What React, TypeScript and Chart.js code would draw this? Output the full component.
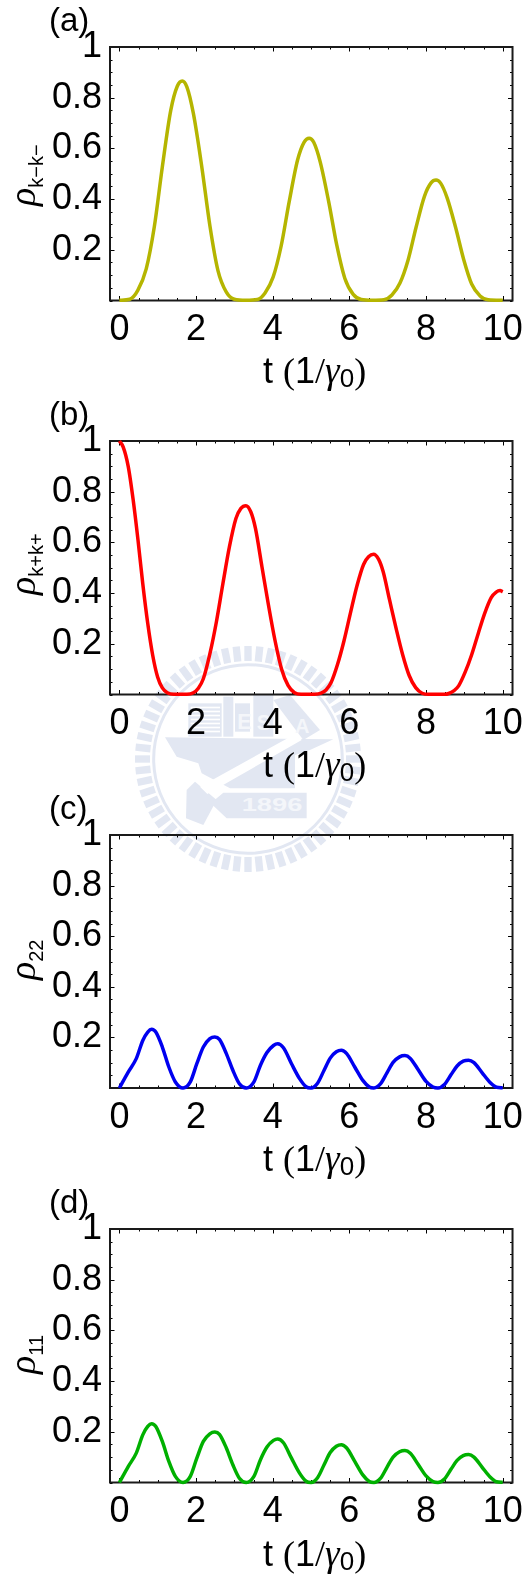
import React, { useEffect, useRef } from "react";
import { Chart, registerables } from "chart.js";

Chart.register(...registerables);

const xTickLabels = [0, 2, 4, 6, 8, 10];
const yTickLabels = [0.2, 0.4, 0.6, 0.8, 1];

const tA = [0, 0.27, 0.48, 0.7, 0.91, 1.12, 1.34, 1.51, 1.64, 1.76, 1.93, 2.15, 2.36, 2.57, 2.79, 3.0, 3.3, 3.6, 3.8, 4.01, 4.22, 4.43, 4.65, 4.82, 4.95, 5.07, 5.24, 5.46, 5.67, 5.88, 6.1, 6.31, 6.6, 6.9, 7.11, 7.32, 7.53, 7.74, 7.96, 8.13, 8.26, 8.38, 8.55, 8.77, 8.98, 9.19, 9.41, 9.62, 10];
const rhoKminus = [0.001, 0.005, 0.04, 0.125, 0.29, 0.527, 0.75, 0.845, 0.866, 0.843, 0.738, 0.527, 0.296, 0.119, 0.033, 0.005, 0.001, 0.004, 0.03, 0.092, 0.215, 0.39, 0.555, 0.625, 0.64, 0.624, 0.546, 0.39, 0.219, 0.088, 0.024, 0.004, 0.001, 0.003, 0.022, 0.069, 0.159, 0.289, 0.412, 0.464, 0.475, 0.463, 0.405, 0.289, 0.163, 0.065, 0.018, 0.003, 0.001];

const tB = [0, 0.1, 0.23, 0.36, 0.485, 0.61, 0.74, 0.87, 0.997, 1.12, 1.25, 1.42, 1.76, 1.93, 2.06, 2.19, 2.36, 2.53, 2.7, 2.87, 3.04, 3.17, 3.3, 3.43, 3.55, 3.72, 3.89, 4.06, 4.23, 4.4, 4.57, 4.74, 5.1, 5.26, 5.39, 5.52, 5.69, 5.86, 6.03, 6.2, 6.37, 6.5, 6.63, 6.76, 6.88, 7.05, 7.22, 7.39, 7.56, 7.73, 7.9, 8.07, 8.5, 8.59, 8.72, 8.85, 9.02, 9.19, 9.36, 9.53, 9.7, 9.83, 9.93, 10];
const rhoKplus = [1, 0.976, 0.9, 0.767, 0.61, 0.437, 0.28, 0.154, 0.069, 0.026, 0.007, 0.001, 0.001, 0.007, 0.025, 0.062, 0.16, 0.286, 0.437, 0.582, 0.694, 0.734, 0.745, 0.72, 0.655, 0.503, 0.352, 0.213, 0.101, 0.036, 0.007, 0.001, 0.001, 0.005, 0.018, 0.046, 0.118, 0.212, 0.323, 0.43, 0.513, 0.543, 0.553, 0.534, 0.485, 0.372, 0.26, 0.157, 0.075, 0.027, 0.005, 0.001, 0.001, 0.004, 0.014, 0.034, 0.088, 0.157, 0.24, 0.32, 0.382, 0.404, 0.41, 0.405];

const tC = [0, 0.23, 0.44, 0.61, 0.74, 0.84, 0.95, 1.12, 1.29, 1.46, 1.66, 1.85, 2.02, 2.19, 2.36, 2.49, 2.61, 2.79, 2.96, 3.13, 3.31, 3.51, 3.68, 3.85, 4.02, 4.13, 4.28, 4.49, 4.7, 4.87, 5.0, 5.17, 5.34, 5.5, 5.66, 5.79, 5.93, 6.14, 6.35, 6.52, 6.64, 6.81, 6.98, 7.14, 7.31, 7.45, 7.59, 7.8, 8.0, 8.18, 8.31, 8.48, 8.65, 8.81, 8.97, 9.11, 9.25, 9.46, 9.67, 9.84, 10];
const rho22 = [0, 0.063, 0.116, 0.188, 0.221, 0.232, 0.221, 0.162, 0.083, 0.024, 0, 0.024, 0.096, 0.162, 0.195, 0.202, 0.192, 0.136, 0.07, 0.017, 0, 0.024, 0.09, 0.14, 0.168, 0.175, 0.159, 0.096, 0.037, 0.005, 0, 0.019, 0.07, 0.118, 0.143, 0.149, 0.136, 0.083, 0.03, 0.004, 0, 0.016, 0.06, 0.101, 0.123, 0.128, 0.117, 0.071, 0.026, 0.004, 0, 0.014, 0.052, 0.087, 0.106, 0.11, 0.1, 0.061, 0.022, 0.003, 0.001];
const rho11 = [0, 0.063, 0.116, 0.188, 0.221, 0.232, 0.221, 0.162, 0.083, 0.024, 0, 0.024, 0.096, 0.162, 0.192, 0.199, 0.19, 0.136, 0.07, 0.017, 0, 0.024, 0.09, 0.14, 0.166, 0.172, 0.157, 0.096, 0.037, 0.005, 0, 0.019, 0.07, 0.118, 0.143, 0.149, 0.136, 0.083, 0.03, 0.004, 0, 0.016, 0.06, 0.1, 0.121, 0.126, 0.115, 0.07, 0.026, 0.004, 0, 0.014, 0.052, 0.087, 0.106, 0.11, 0.1, 0.061, 0.022, 0.003, 0.001];

const SANS = '"Liberation Sans", Arial, sans-serif';
const SERIF = '"Liberation Serif", "Times New Roman", serif';
const AREA_LEFT = 110;
const AREA_RIGHT = 520;
const CANVAS_H = 394;
const AREA_TOP = 50;

const near = (a: number, b: number) => Math.abs(a - b) < 1e-6;

const framePlugin = {
  id: "frameAndTicks",
  beforeDatasetsDraw(chart: any) {
    const { ctx, chartArea: a, scales } = chart;
    ctx.save();
    ctx.strokeStyle = "#000";
    ctx.lineWidth = 1;
    ctx.beginPath();
    for (const t of scales.x.ticks) {
      const px = Math.round(scales.x.getPixelForValue(t.value)) + 0.5;
      const len = xTickLabels.some((v) => near(v, t.value)) ? 4.5 : 2.5;
      ctx.moveTo(px, a.bottom);
      ctx.lineTo(px, a.bottom - len);
      ctx.moveTo(px, a.top);
      ctx.lineTo(px, a.top + len);
    }
    for (const t of scales.y.ticks) {
      const py = Math.round(scales.y.getPixelForValue(t.value)) + 0.5;
      const len = yTickLabels.some((v) => near(v, t.value)) ? 4.5 : 2.5;
      ctx.moveTo(a.left, py);
      ctx.lineTo(a.left + len, py);
      ctx.moveTo(a.right, py);
      ctx.lineTo(a.right - len, py);
    }
    ctx.stroke();
    ctx.lineWidth = 2;
    ctx.strokeStyle = "#1a1a1a";
    ctx.strokeRect(a.left, a.top, a.right - a.left, a.bottom - a.top);
    ctx.restore();
  },
};

type PanelProps = {
  top: number;
  height: number;
  t: number[];
  values: number[];
  color: string;
  tag: string;
  sub: string;
  labelBottom: number;
};

function Panel({ top, height, t, values, color, tag, sub, labelBottom }: PanelProps) {
  const ref = useRef<HTMLCanvasElement>(null);
  useEffect(() => {
    const chart = new Chart(ref.current!, {
      type: "line",
      data: {
        datasets: [
          {
            data: t.map((x, i) => ({ x, y: values[i] })),
            borderColor: color,
            borderWidth: 3.5,
            pointRadius: 0,
            cubicInterpolationMode: "monotone",
            clip: false,
          },
        ],
      },
      options: {
        animation: false,
        responsive: false,
        events: [],
        layout: { autoPadding: false, padding: { top: AREA_TOP, right: 531 - AREA_RIGHT, left: 0, bottom: 0 } },
        plugins: { legend: { display: false }, tooltip: { enabled: false } },
        scales: {
          x: {
            type: "linear",
            min: -0.245,
            max: 10.256,
            grid: { display: false, drawTicks: false },
            border: { display: false },
            afterFit: (s: any) => {
              s.height = CANVAS_H - AREA_TOP - height;
            },
            ticks: {
              stepSize: 0.5,
              includeBounds: false,
              autoSkip: false,
              maxRotation: 0,
              padding: 8,
              color: "#000",
              font: { family: SANS, size: 36 },
              callback: (v: any) => (xTickLabels.some((l) => near(l, v)) ? String(Math.round(v)) : ""),
            },
          },
          y: {
            type: "linear",
            min: 0,
            max: 1,
            grid: { display: false, drawTicks: false },
            border: { display: false },
            afterFit: (s: any) => {
              s.width = AREA_LEFT;
            },
            ticks: {
              stepSize: 0.05,
              includeBounds: false,
              autoSkip: false,
              padding: 8,
              color: "#000",
              font: { family: SANS, size: 36 },
              callback: (v: any) => {
                const l = yTickLabels.find((k) => near(k, v));
                return l === undefined ? "" : String(l);
              },
            },
          },
        },
      },
      plugins: [framePlugin],
    } as any);
    return () => chart.destroy();
  }, []);

  return (
    <>
      <canvas
        ref={ref}
        width={531}
        height={CANVAS_H}
        style={{ position: "absolute", left: 0, top: top - AREA_TOP, width: 531, height: CANVAS_H }}
      />
      <div style={{ position: "absolute", left: 49, top: top - 46, fontFamily: SANS, fontSize: 33, lineHeight: "38px", color: "#000" }}>
        {tag}
      </div>
      <div
        style={{
          position: "absolute",
          left: 4,
          top: labelBottom,
          transformOrigin: "0 0",
          transform: "rotate(-90deg)",
          whiteSpace: "nowrap",
          lineHeight: "36px",
          color: "#000",
        }}
      >
        <span style={{ fontFamily: SERIF, fontStyle: "italic", fontSize: 38 }}>ρ</span>
        <span style={{ fontFamily: SANS, fontSize: 20, position: "relative", top: 8 }}>{sub}</span>
      </div>
      <div
        style={{
          position: "absolute",
          left: 263,
          top: top + height + 52,
          whiteSpace: "nowrap",
          lineHeight: "38px",
          color: "#000",
        }}
      >
        <span style={{ fontFamily: SANS, fontSize: 36 }}>t </span>
        <span style={{ fontFamily: SERIF, fontSize: 36 }}>(</span>
        <span style={{ fontFamily: SANS, fontSize: 36 }}>1</span>
        <span style={{ fontFamily: SERIF, fontSize: 36 }}>/</span>
        <span style={{ fontFamily: SERIF, fontStyle: "italic", fontSize: 37 }}>γ</span>
        <span style={{ fontFamily: SANS, fontSize: 26, position: "relative", top: 4 }}>0</span>
        <span style={{ fontFamily: SERIF, fontSize: 36 }}>)</span>
      </div>
    </>
  );
}

const TEETH = Array.from({ length: 60 }, (_, i) => i * 6);
const MARK = "#e2e7f2";

function Watermark() {
  return (
    <svg
      width={250}
      height={240}
      viewBox="0 0 750 720"
      style={{ position: "absolute", left: 120, top: 640 }}
    >
      {TEETH.map((a) => (
        <rect key={a} x={373} y={18} width={22} height={45} fill={MARK} transform={`rotate(${a} 384 357)`} />
      ))}
      <circle cx={384} cy={357} r={283} fill="none" stroke={MARK} strokeWidth={9} />
      <path d="M135 292 L640 298 L570 330 L525 345 L525 445 L330 445 L245 400 L235 370 L170 350 Z" fill={MARK} />
      <path d="M310 458 L560 458 L560 535 L320 535 L272 490 Z" fill={MARK} />
      <path d="M200 450 L225 425 L290 480 L250 555 L198 535 Z" fill={MARK} />
      <path d="M240 440 L530 280 L545 300 L262 462 Z" fill="#fff" />
      <rect x={205} y={190} width={100} height={100} fill={MARK} />
      {[200, 212, 224, 236, 248, 260, 272].map((y) => (
        <rect key={y} x={212} y={y} width={88} height={5} fill="#fff" />
      ))}
      <rect x={310} y={170} width={30} height={120} fill={MARK} />
      <rect x={345} y={190} width={45} height={85} fill={MARK} />
      <rect x={400} y={165} width={60} height={125} fill={MARK} />
      <path d="M460 180 L510 165 L600 270 L550 300 Z" fill={MARK} />
      <text x={352} y={268} fontFamily={SANS} fontWeight="bold" fontSize={64} fill="#f4f6fa">E</text>
      <text x={410} y={270} fontFamily={SANS} fontWeight="bold" fontSize={64} fill="#f4f6fa">S</text>
      <text x={525} y={280} fontFamily={SANS} fontWeight="bold" fontSize={60} fill="#f4f6fa">A</text>
      <text x={365} y={513} fontFamily={SANS} fontWeight="bold" fontSize={54} textLength={182} lengthAdjust="spacingAndGlyphs" fill="#f4f6fa">1896</text>
    </svg>
  );
}

export default function App() {
  return (
    <div style={{ position: "absolute", left: 0, top: 0, width: 531, height: 1577, overflow: "hidden", background: "#fff" }}>
      <Watermark />
      <Panel top={46.5} height={253.5} t={tA} values={rhoKminus} color="#b5b500" tag="(a)" sub="k−k−" labelBottom={206} />
      <Panel top={440.5} height={253.5} t={tB} values={rhoKplus} color="#ff0000" tag="(b)" sub="k+k+" labelBottom={595} />
      <Panel top={834.5} height={253} t={tC} values={rho22} color="#0000f0" tag="(c)" sub="22" labelBottom={980} />
      <Panel top={1229} height={253.5} t={tC} values={rho11} color="#00b000" tag="(d)" sub="11" labelBottom={1374} />
    </div>
  );
}
